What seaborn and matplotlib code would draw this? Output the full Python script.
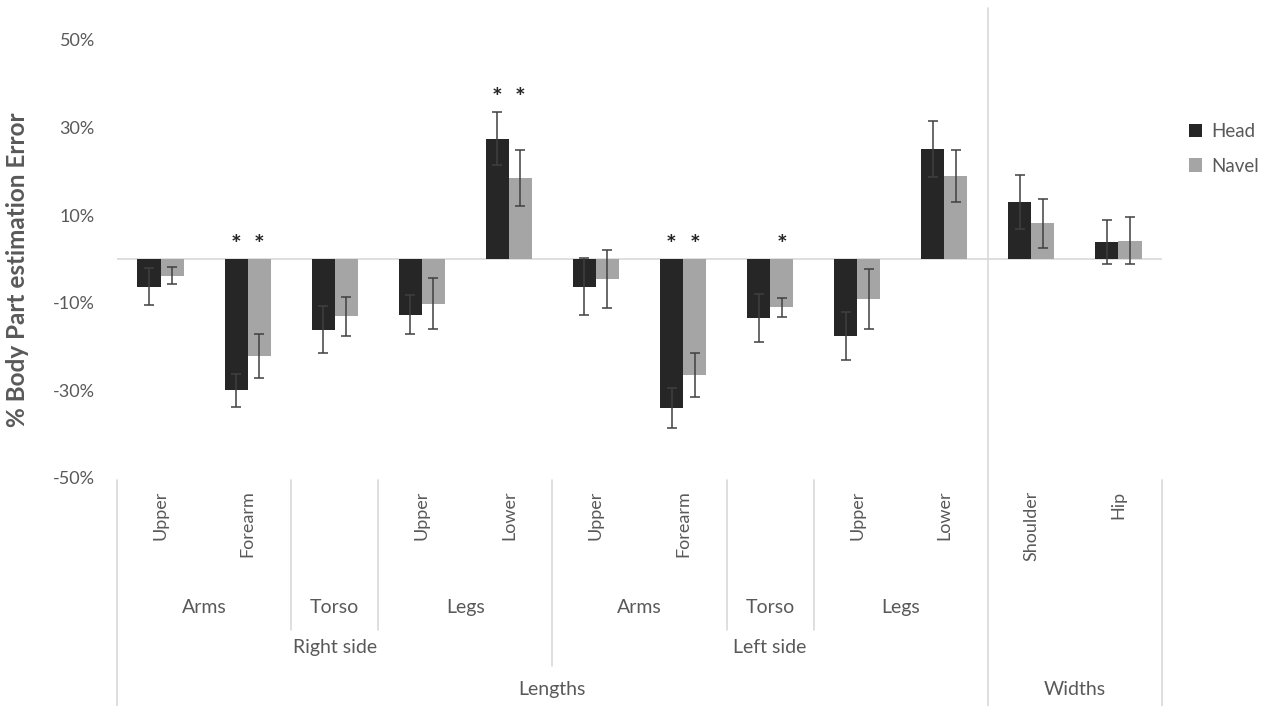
import numpy as np
import pandas as pd
import matplotlib
matplotlib.use("Agg")
import matplotlib.pyplot as plt
import seaborn as sns
from matplotlib.transforms import blended_transform_factory

# data (percent)
parts = ["R Arms Upper", "R Arms Forearm", "R Torso", "R Legs Upper", "R Legs Lower",
         "L Arms Upper", "L Arms Forearm", "L Torso", "L Legs Upper", "L Legs Lower",
         "W Shoulder", "W Hip"]
tick_labels = ["Upper", "Forearm", "", "Upper", "Lower",
               "Upper", "Forearm", "", "Upper", "Lower",
               "Shoulder", "Hip"]
head = [-6.3, -30.0, -16.1, -12.7, 27.5, -6.3, -34.0, -13.5, -17.5, 25.1, 13.0, 3.8]
head_err = [4.2, 3.8, 5.3, 4.5, 6.0, 6.5, 4.5, 5.4, 5.5, 6.4, 6.2, 5.0]
navel = [-3.8, -22.2, -13.1, -10.2, 18.6, -4.6, -26.4, -11.0, -9.1, 19.0, 8.2, 4.2]
navel_err = [2.0, 5.0, 4.5, 5.8, 6.4, 6.6, 5.0, 2.2, 6.8, 5.9, 5.6, 5.4]
head_sig = [0, 1, 0, 0, 1, 0, 1, 0, 0, 0, 0, 0]
navel_sig = [0, 1, 0, 0, 1, 0, 1, 1, 0, 0, 0, 0]

level1 = [("Arms", 0, 1), ("Torso", 2, 2), ("Legs", 3, 4),
          ("Arms", 5, 6), ("Torso", 7, 7), ("Legs", 8, 9)]
level2 = [("Right side", 0, 4), ("Left side", 5, 9)]
level3 = [("Lengths", 0, 9), ("Widths", 10, 11)]

df = pd.DataFrame({
    "part": parts * 2,
    "value": head + navel,
    "series": ["Head"] * len(parts) + ["Navel"] * len(parts),
})

sns.set_style("white")
plt.rcParams["font.family"] = ["Lato", "DejaVu Sans"]
txt = "#595959"
line_c = "#d9d9d9"

fig = plt.figure(figsize=(12.74, 7.06), dpi=100)
ax = fig.add_axes([117 / 1274, 1 - 478 / 706, 1045 / 1274, 438 / 706])

sns.barplot(data=df, x="part", y="value", hue="series",
            palette={"Head": "#262626", "Navel": "#a5a5a5"},
            width=0.53, errorbar=None, linewidth=0, ax=ax, zorder=2)

# error bars
for cont, errs in zip(ax.containers, [head_err, navel_err]):
    xs = [p.get_x() + p.get_width() / 2 for p in cont]
    ax.errorbar(xs, cont.datavalues, yerr=errs, fmt="none", ecolor="#404040",
                elinewidth=1.1, capsize=3.5, capthick=1.1, zorder=3)

# significance stars
cx = {0: [p.get_x() + p.get_width() / 2 for p in ax.containers[0]],
      1: [p.get_x() + p.get_width() / 2 for p in ax.containers[1]]}
for i in range(len(parts)):
    top = max(0, head[i] + head_err[i], navel[i] + navel_err[i]) + 0.5
    for k, sig in enumerate([head_sig, navel_sig]):
        if sig[i]:
            ax.text(cx[k][i], top, "*", ha="center", va="bottom",
                    fontsize=18, fontweight="bold", color="#262626")

ax.axhline(0, color=line_c, lw=1.2, zorder=1)
ax.set_xlim(-0.5, len(parts) - 0.5)
ax.set_ylim(-50, 50)
ax.set_yticks([-50, -30, -10, 10, 30, 50])
ax.set_yticklabels([f"{v}%" for v in [-50, -30, -10, 10, 30, 50]])
ax.set_xticks(range(len(parts)))
ax.set_xticklabels(tick_labels, rotation=90, va="top")
ax.tick_params(axis="x", length=0, pad=9, labelsize=13, labelcolor=txt)
ax.tick_params(axis="y", length=0, pad=16, labelsize=13, labelcolor=txt)
ax.set_xlabel("")
ax.set_ylabel("")
for s in ax.spines.values():
    s.set_visible(False)

fig.text(18 / 1274, 1 - 270 / 706, "% Body Part estimation Error", rotation=90,
         ha="center", va="center", fontsize=17.5, fontweight="bold", color=txt)

# multi-level category axis
tr = blended_transform_factory(ax.transData, ax.transAxes)
def vline(x, y0, y1):
    ax.plot([x, x], [y0, y1], color=line_c, lw=1.2, transform=tr, clip_on=False)

y_l1, y_l2, y_l3, y_bot = -0.295, -0.388, -0.484, -0.53
for lev, yy in [(level1, y_l1), (level2, y_l2), (level3, y_l3)]:
    for name, a, b in lev:
        ax.text((a + b) / 2, yy, name, transform=tr, ha="center", va="center",
                fontsize=14, color=txt)

for x in [1.5, 2.5, 6.5, 7.5]:
    vline(x, -0.005, -0.347)
vline(4.5, -0.005, -0.43)
vline(-0.5, -0.005, y_bot)
vline(11.5, -0.005, y_bot)
vline(9.5, y_bot, (478 - 8) / 438)

sns.move_legend(ax, "center left", bbox_to_anchor=(1.01, 0.752), frameon=False,
                title=None, fontsize=13.5, handlelength=0.7, handleheight=0.7,
                handletextpad=0.45, labelspacing=0.95)
for t in ax.get_legend().get_texts():
    t.set_color(txt)

fig.savefig("out.png", dpi=100, facecolor="white")
